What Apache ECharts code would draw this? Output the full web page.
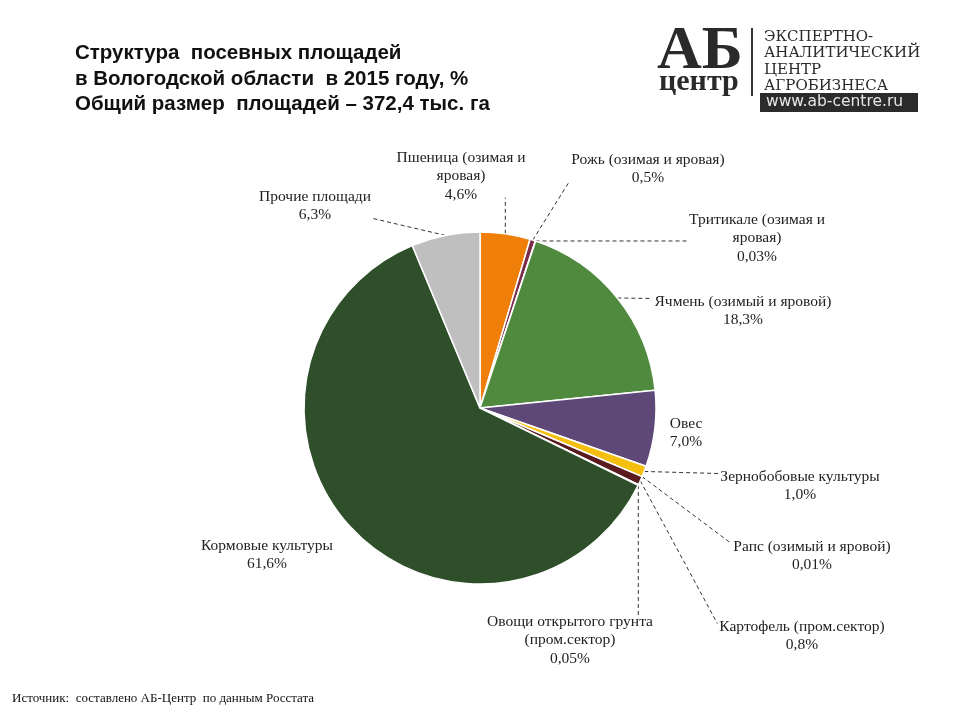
<!DOCTYPE html>
<html><head><meta charset="utf-8">
<script src="https://cdn.jsdelivr.net/npm/echarts@6/dist/echarts.min.js"></script>
<style>html,body{margin:0;padding:0;background:#fff}#c{width:960px;height:720px}</style>
</head><body><div id="c"></div>
<script>
const categories = [
  'Пшеница (озимая и\nяровая)',
  'Рожь (озимая и яровая)',
  'Тритикале (озимая и\nяровая)',
  'Ячмень (озимый и яровой)',
  'Овес',
  'Зернобобовые культуры',
  'Рапс (озимый и яровой)',
  'Картофель (пром.сектор)',
  'Овощи открытого грунта\n(пром.сектор)',
  'Кормовые культуры',
  'Прочие площади'
];
const shares = [4.6, 0.5, 0.03, 18.3, 7.0, 1.0, 0.01, 0.8, 0.05, 61.6, 6.3];
const colors = ['#f07f0a','#7b2e48','#8a6a9a','#4f8a3f','#5e4878','#f5bf0f','#c0504d','#5a1c1e','#9bbb59','#2f4f2b','#bfbfbf'];
const labelAt = [[461,176],[648,169],[757,238],[743,311],[686,433],[800,486],[812,556],[802,636],[570,640],[267,555],[315,206]];
const showLine = [true,true,true,true,false,true,true,true,true,false,true];

function fmt(v){ return (v < 0.1 ? v.toFixed(2) : v.toFixed(1)).replace('.', ',') + '%'; }

const chart = echarts.init(document.getElementById('c'));
chart.setOption({
  animation: false,
  graphic: [
    {type:'text', left:75, top:41, style:{text:'Структура  посевных площадей\nв Вологодской области  в 2015 году, %\nОбщий размер  площадей – 372,4 тыс. га', font:'bold 20.5px "Liberation Sans", Arial', lineHeight:25.5, fill:'#111'}},
    {type:'text', left:657, top:21, style:{text:'АБ', font:'bold 62px "Liberation Serif", serif', fill:'#2a2a2a'}},
    {type:'text', left:659, top:67, style:{text:'центр', font:'bold 30px "Liberation Serif", serif', fill:'#2a2a2a'}},
    {type:'rect', shape:{x:751, y:28, width:2, height:68}, style:{fill:'#333'}},
    {type:'text', left:764, top:29, style:{text:'ЭКСПЕРТНО-\nАНАЛИТИЧЕСКИЙ\nЦЕНТР\nАГРОБИЗНЕСА', font:'15px "DejaVu Serif", serif', lineHeight:16.4, fill:'#2a2a2a'}},
    {type:'rect', shape:{x:760, y:93, width:158, height:19}, style:{fill:'#2b2b2b'}},
    {type:'text', left:766, top:94, style:{text:'www.ab-centre.ru', font:'15.5px "DejaVu Sans", sans-serif', fill:'#e6e6e6'}},
    {type:'text', left:12, top:692, style:{text:'Источник:  составлено АБ-Центр  по данным Росстата', font:'13px "Liberation Serif", serif', fill:'#111'}}
  ],
  series: [{
    type: 'pie',
    center: [480, 408],
    radius: [0, 176],
    startAngle: 90,
    clockwise: true,
    avoidLabelOverlap: false,
    itemStyle: {borderColor:'#fff', borderWidth:1.5},
    label: {
      show: true, position: 'outside',
      formatter: p => p.name + '\n' + fmt(p.value),
      fontFamily: '"Liberation Serif", serif', fontSize: 15.5, lineHeight: 18.5,
      color: '#222', align: 'center'
    },
    labelLine: {show: true, lineStyle: {type: [4, 3], color: '#333', width: 1}},
    labelLayout: function (p) {
      const i = p.dataIndex;
      const [x, y] = labelAt[i];
      const w = p.labelRect.width, h = p.labelRect.height;
      const out = {x: x, y: y, align: 'center', verticalAlign: 'middle'};
      if (showLine[i] && p.labelLinePoints) {
        const s = p.labelLinePoints[0];
        const l = x - w / 2 - 2, r = x + w / 2 + 2, t = y - h / 2 + 6, b = y + h / 2 - 6;
        const ex = Math.min(Math.max(s[0], l), r);
        const ey = Math.min(Math.max(s[1], t), b);
        out.labelLinePoints = [s, [(s[0] + ex) / 2, (s[1] + ey) / 2], [ex, ey]];
      }
      return out;
    },
    data: categories.map((n, i) => ({
      name: n, value: shares[i],
      itemStyle: {color: colors[i]},
      labelLine: {show: showLine[i]}
    }))
  }]
});
</script></body></html>
